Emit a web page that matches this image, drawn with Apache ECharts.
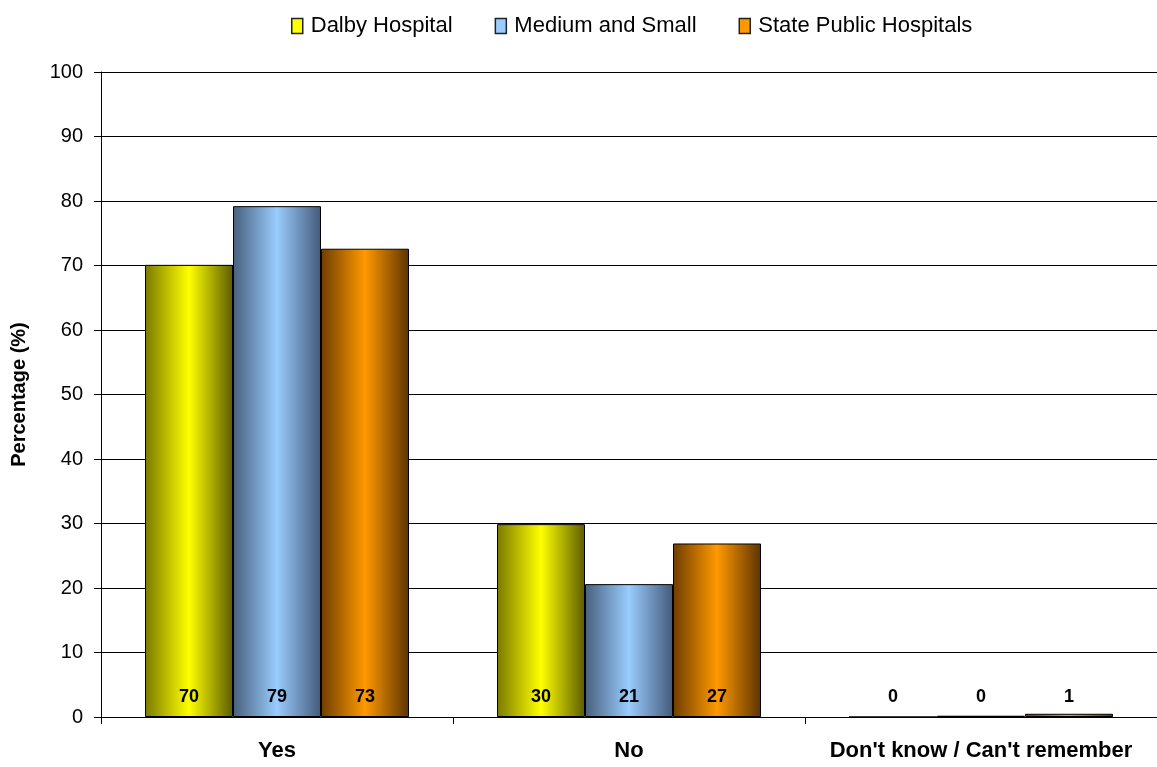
<!DOCTYPE html>
<html>
<head>
<meta charset="utf-8">
<script src="https://cdn.jsdelivr.net/npm/echarts@6/dist/echarts.min.js"></script>
<style>
	html, body { margin: 0; padding: 0; background: #fff; }
	#chart { width: 1157px; height: 767px; }
</style>
</head>
<body>
<div id="chart"></div>
<script>
// 分类
var categories = ['Yes', 'No', "Don't know / Can't remember"];
// 系列名称
var seriesNames = ['Dalby Hospital', 'Medium and Small', 'State Public Hospitals'];
// 数值 (%)
var dalby = [70.1, 29.9, 0];
var medium = [79.2, 20.6, 0.2];
var state = [72.6, 26.9, 0.5];
// 标签文字
var dalbyLabels = ['70', '30', '0'];
var mediumLabels = ['79', '21', '0'];
var stateLabels = ['73', '27', '1'];

// 颜色: [左边缘, 中间, 右边缘]
var colors = [
	['#7a7a00', '#ffff00', '#5c5c00'],
	['#48607c', '#99ccff', '#44597a'],
	['#6e3d00', '#ff9900', '#5c3300']
];

function grad(c) {
	return new echarts.graphic.LinearGradient(0, 0, 1, 0, [
		{ offset: 0, color: c[0] },
		{ offset: 0.5, color: c[1] },
		{ offset: 1, color: c[2] }
	]);
}

function makeSeries(i, values, labels) {
	return {
		name: seriesNames[i],
		type: 'bar',
		barGap: 0,
		barCategoryGap: '25%',
		data: values,
		itemStyle: {
			color: grad(colors[i]),
			borderColor: '#000',
			borderWidth: 1
		},
		label: {
			show: true,
			position: 'insideBottom',
			distance: 11,
			color: '#000',
			fontSize: 18,
			fontWeight: 'bold',
			fontFamily: 'Liberation Sans, Arial, sans-serif',
			formatter: function (p) { return labels[p.dataIndex]; }
		}
	};
}

var chart = echarts.init(document.getElementById('chart'));
var option = {
	animation: false,
	textStyle: { fontFamily: 'Liberation Sans, Arial, sans-serif' },
	legend: {
		top: 10,
		left: 286,
		itemWidth: 11,
		itemHeight: 15,
		itemGap: 42,
		textStyle: { fontSize: 22, color: '#000', padding: [0, 0, 0, 3] },
		data: seriesNames.map(function (n, i) {
			return { name: n, icon: 'rect', itemStyle: { color: colors[i][1], borderColor: '#222', borderWidth: 1.5 } };
		})
	},
	grid: { left: 101, width: 1060, top: 72, bottom: 50 },
	xAxis: {
		type: 'category',
		data: categories,
		axisLine: { lineStyle: { color: '#000', width: 1 } },
		axisTick: { show: true, length: 7, lineStyle: { color: '#000' } },
		axisLabel: { interval: 0, fontSize: 22, fontWeight: 'bold', color: '#000', margin: 23 }
	},
	yAxis: {
		type: 'value',
		min: 0,
		max: 100,
		interval: 10,
		name: 'Percentage (%)',
		nameLocation: 'middle',
		nameGap: 72,
		nameTextStyle: { fontSize: 20, fontWeight: 'bold', color: '#000' },
		axisLine: { show: true, lineStyle: { color: '#000', width: 1 } },
		axisTick: { show: true, length: 7, lineStyle: { color: '#000' } },
		axisLabel: { fontSize: 20, color: '#000', margin: 18 },
		splitLine: { show: true, lineStyle: { color: '#000', width: 1 } }
	},
	series: [
		makeSeries(0, dalby, dalbyLabels),
		makeSeries(1, medium, mediumLabels),
		makeSeries(2, state, stateLabels)
	]
};
chart.setOption(option);
</script>
</body>
</html>
